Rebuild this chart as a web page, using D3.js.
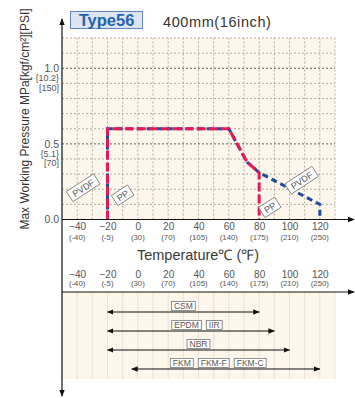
<!DOCTYPE html>
<html>
<head>
<meta charset="utf-8">
<script src="https://cdn.jsdelivr.net/npm/d3@7"></script>
<style>
  body { margin: 0; background: #fff; }
  text { font-family: 'Liberation Sans', Arial, sans-serif; }
</style>
</head>
<body>
<div id="chart"></div>
<script>
// tick labels
let celsiusTicks = [-40, -20, 0, 20, 40, 60, 80, 100, 120]
let fahrenheitTicks = ['(-40)', '(-5)', '(30)', '(70)', '(105)', '(140)', '(175)', '(210)', '(250)']
let pressureTicks = [0.0, 0.5, 1.0]
let kgfTicks = ['', '{5.1}', '{10.2}']
let psiTicks = ['', '[70]', '[150]']

// pressure curves (temp C, MPa)
let ppLine = [[-20, 0], [-20, 0.6], [60, 0.6], [72, 0.38], [80, 0.31], [80, 0]]
let pvdfLine = [[-20, 0], [-20, 0.6], [60, 0.6], [72, 0.38], [80, 0.31], [120, 0.1], [120, 0]]

// seal material ranges
let materialLabels = [['CSM'], ['EPDM', 'IIR'], ['NBR'], ['FKM', 'FKM-F', 'FKM-C']]
let materialFrom = [-20, -20, -20, -4]
let materialTo = [80, 90, 100, 120]

let width = 355
let height = 398

let svg = d3
  .select('#chart')
  .append('svg')
  .attr('width', width)
  .attr('height', height)

let defs = svg.append('defs')
defs.append('marker')
  .attr('id', 'head')
  .attr('viewBox', '0 0 10 10')
  .attr('refX', 9)
  .attr('refY', 5)
  .attr('markerWidth', 6)
  .attr('markerHeight', 6)
  .attr('orient', 'auto-start-reverse')
  .append('path')
  .attr('d', 'M0,1 L10,5 L0,9 Z')
  .attr('fill', '#111')

let xPositionScale = d3.scaleLinear().domain([-50, 130]).range([62, 335])
let yPositionScale = d3.scaleLinear().domain([0, 1.2]).range([219.5, 38])
let rowScale = d3.scalePoint().domain(d3.range(materialLabels.length)).range([312, 369])

let bg = '#fdf6ea'

// top panel background
svg.append('rect')
  .attr('x', xPositionScale(-50))
  .attr('y', yPositionScale(1.2))
  .attr('width', xPositionScale(130) - xPositionScale(-50))
  .attr('height', yPositionScale(0) - yPositionScale(1.2))
  .attr('fill', bg)

// bottom panel background
svg.append('rect')
  .attr('x', xPositionScale(-50))
  .attr('y', 292)
  .attr('width', xPositionScale(130) - xPositionScale(-50))
  .attr('height', 87)
  .attr('fill', bg)

let xGrid = d3.range(-40, 131, 10)
let yGrid = d3.range(1, 13).map(d => d / 10)

svg.selectAll('.v-grid')
  .data(xGrid)
  .enter()
  .append('line')
  .attr('class', 'v-grid')
  .attr('x1', d => xPositionScale(d))
  .attr('x2', d => xPositionScale(d))
  .attr('y1', yPositionScale(0))
  .attr('y2', yPositionScale(1.2))
  .attr('stroke', '#a09a90')
  .attr('stroke-width', 0.8)
  .attr('stroke-dasharray', '2,2')

svg.selectAll('.h-grid')
  .data(yGrid)
  .enter()
  .append('line')
  .attr('class', 'h-grid')
  .attr('x1', xPositionScale(-50))
  .attr('x2', xPositionScale(130))
  .attr('y1', d => yPositionScale(d))
  .attr('y2', d => yPositionScale(d))
  .attr('stroke', d => (Math.abs(d - 0.5) < 1e-6 || Math.abs(d - 1) < 1e-6) ? '#333' : '#a09a90')
  .attr('stroke-width', 0.8)
  .attr('stroke-dasharray', '2,2')

// bottom grid
svg.selectAll('.b-grid')
  .data(xGrid)
  .enter()
  .append('line')
  .attr('class', 'b-grid')
  .attr('x1', d => xPositionScale(d))
  .attr('x2', d => xPositionScale(d))
  .attr('y1', 292)
  .attr('y2', 379)
  .attr('stroke', '#e3ddd2')
  .attr('stroke-width', 0.8)

// curves
let line = d3.line()
  .x(d => xPositionScale(d[0]))
  .y(d => yPositionScale(d[1]))

svg.append('path')
  .attr('d', line(pvdfLine))
  .attr('fill', 'none')
  .attr('stroke', '#1f4b9c')
  .attr('stroke-width', 3)
  .attr('stroke-dasharray', '6,4')

svg.append('path')
  .attr('d', line(ppLine))
  .attr('fill', 'none')
  .attr('stroke', '#e5195a')
  .attr('stroke-width', 3)
  .attr('stroke-dasharray', '9,3')

// rotated labels
let tags = [
  { t: 'PVDF', x: -36, y: 0.21 },
  { t: 'PP', x: -10, y: 0.16 },
  { t: 'PVDF', x: 108, y: 0.26 },
  { t: 'PP', x: 87, y: 0.08 }
]
let tagG = svg.selectAll('.tag')
  .data(tags)
  .enter()
  .append('g')
  .attr('class', 'tag')
  .attr('transform', d => 'translate(' + xPositionScale(d.x) + ',' + yPositionScale(d.y) + ') rotate(-33)')
tagG.append('rect')
  .attr('x', d => -(d.t.length * 3.3 + 3))
  .attr('y', -6)
  .attr('width', d => d.t.length * 6.6 + 6)
  .attr('height', 12)
  .attr('fill', '#fff')
  .attr('stroke', '#666')
  .attr('stroke-width', 0.7)
tagG.append('text')
  .attr('text-anchor', 'middle')
  .attr('y', 3.5)
  .attr('font-size', 9)
  .attr('fill', '#555')
  .text(d => d.t)

// axes lines
svg.append('line')
  .attr('x1', 62).attr('x2', 62)
  .attr('y1', 19).attr('y2', 396)
  .attr('stroke', '#111').attr('stroke-width', 1.2)
  .attr('marker-start', 'url(#head)')
  .attr('marker-end', 'url(#head)')

svg.append('line')
  .attr('x1', 62).attr('x2', 354)
  .attr('y1', yPositionScale(0)).attr('y2', yPositionScale(0))
  .attr('stroke', '#111').attr('stroke-width', 1.2)
  .attr('marker-end', 'url(#head)')

svg.append('line')
  .attr('x1', 62).attr('x2', 354)
  .attr('y1', 292).attr('y2', 292)
  .attr('stroke', '#111').attr('stroke-width', 1.2)
  .attr('marker-end', 'url(#head)')

// x tick labels (two sets)
function tickLabels(yC, yF) {
  let g = svg.append('g')
    .attr('transform', 'translate(0,' + yC + ')')
    .call(d3.axisBottom(xPositionScale).tickValues(celsiusTicks).tickSize(0).tickPadding(0))
  g.select('.domain').remove()
  g.selectAll('text')
    .attr('font-size', 10)
    .attr('fill', '#555')
    .attr('font-family', 'Liberation Sans, Arial, sans-serif')
  svg.selectAll(null)
    .data(celsiusTicks)
    .enter()
    .append('text')
    .attr('x', d => xPositionScale(d))
    .attr('y', yF)
    .attr('text-anchor', 'middle')
    .attr('font-size', 7.8)
    .attr('fill', '#555')
    .text((d, i) => fahrenheitTicks[i])
}
tickLabels(222.5, 239.5)
tickLabels(270.5, 286)

svg.append('text')
  .attr('x', 198)
  .attr('y', 260)
  .attr('text-anchor', 'middle')
  .attr('font-size', 14.5)
  .attr('fill', '#3a3a3a')
  .text('Temperature℃ (℉)')

// y tick labels
let yTicks = svg.selectAll('.y-tick')
  .data(pressureTicks)
  .enter()
  .append('g')
  .attr('class', 'y-tick')
  .attr('transform', d => 'translate(59,' + yPositionScale(d) + ')')
yTicks.append('text')
  .attr('text-anchor', 'end')
  .attr('y', 3.8)
  .attr('font-size', 10.5)
  .attr('fill', '#555')
  .text(d => d.toFixed(1))
yTicks.append('text')
  .attr('text-anchor', 'end')
  .attr('y', 12.8)
  .attr('font-size', 9)
  .attr('fill', '#555')
  .text((d, i) => kgfTicks[i])
yTicks.append('text')
  .attr('text-anchor', 'end')
  .attr('y', 22.6)
  .attr('font-size', 9)
  .attr('fill', '#555')
  .text((d, i) => psiTicks[i])

// y title
svg.append('text')
  .attr('transform', 'translate(29,119) rotate(-90)')
  .attr('text-anchor', 'middle')
  .attr('font-size', 12)
  .attr('fill', '#333')
  .text('Max Working Pressure MPa[kgf/cm²][PSI]')

// header
svg.append('rect')
  .attr('x', 70.5).attr('y', 11.5)
  .attr('width', 72).attr('height', 17)
  .attr('fill', '#dde5f4')
  .attr('stroke', '#5d83c4')
  .attr('stroke-width', 1)
svg.append('text')
  .attr('x', 106.5)
  .attr('y', 26)
  .attr('text-anchor', 'middle')
  .attr('font-size', 16.5)
  .attr('font-weight', 'bold')
  .attr('fill', '#2365ad')
  .text('Type56')
svg.append('text')
  .attr('x', 163)
  .attr('y', 27)
  .attr('font-size', 14.5)
  .attr('letter-spacing', 0.6)
  .attr('fill', '#333')
  .text('400mm(16inch)')

// material ranges
svg.selectAll('.range')
  .data(materialLabels)
  .enter()
  .append('line')
  .attr('class', 'range')
  .attr('x1', (d, i) => xPositionScale(materialFrom[i]))
  .attr('x2', (d, i) => xPositionScale(materialTo[i]))
  .attr('y1', (d, i) => rowScale(i))
  .attr('y2', (d, i) => rowScale(i))
  .attr('stroke', '#111')
  .attr('stroke-width', 1.1)
  .attr('marker-start', 'url(#head)')
  .attr('marker-end', 'url(#head)')

// label group centre (deg C) for each row
let labelCentre = [30, 39, 40, 53]
materialLabels.forEach((labels, i) => {
  let boxes = labels.map(t => {
    let g = svg.append('g')
    let r = g.append('rect')
      .attr('fill', '#fff')
      .attr('stroke', '#777')
      .attr('stroke-width', 0.8)
    let tx = g.append('text')
      .attr('text-anchor', 'middle')
      .attr('font-size', 8.5)
      .attr('fill', '#555')
      .text(t)
    return { r: r, tx: tx, w: tx.node().getComputedTextLength() + 5 }
  })
  let gap = 5
  let total = d3.sum(boxes, b => b.w) + gap * (labels.length - 1)
  let x = xPositionScale(labelCentre[i]) - total / 2
  boxes.forEach(b => {
    b.r.attr('x', x)
      .attr('y', rowScale(i) - 10.5)
      .attr('width', b.w)
      .attr('height', 9)
    b.tx.attr('x', x + b.w / 2)
      .attr('y', rowScale(i) - 3)
    x += b.w + gap
  })
})
</script>
</body>
</html>
